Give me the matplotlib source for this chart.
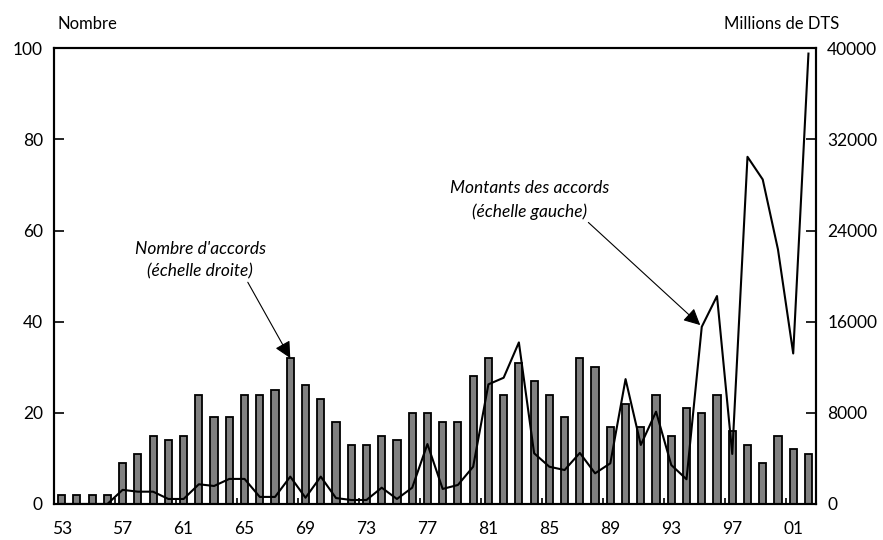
import matplotlib
matplotlib.use("Agg")
import matplotlib.pyplot as plt
import numpy as np

plt.rcParams["font.family"] = ["Lato", "DejaVu Sans"]

years = list(range(1953, 2003))
nombre = [2, 2, 2, 2, 9, 11, 15, 14, 15, 24,
          19, 19, 24, 24, 25, 32, 26, 23, 18, 13,
          13, 15, 14, 20, 20, 18, 18, 28, 32, 24,
          31, 27, 24, 19, 32, 30, 17, 22, 17, 24,
          15, 21, 20, 24, 16, 13, 9, 15, 12, 11]
montants = [0, 0, 0, 0, 1240, 1080, 1080, 440, 440, 1730,
            1580, 2200, 2200, 620, 620, 2400, 550, 2400, 520, 350,
            350, 1430, 440, 1430, 5260, 1320, 1670, 3270, 10500, 11080,
            14180, 4450, 3270, 2980, 4480, 2690, 3570, 10960, 5180, 8100,
            3420, 2170, 15550, 18250, 4390, 30470, 28480, 22340, 13210, 39530]
xtick_years = list(range(1953, 2003, 4))
xtick_labels = [f"{y % 100:02d}" for y in xtick_years]

fig = plt.figure(figsize=(8.83, 5.40), dpi=100)
ax = fig.add_axes([0.0612, 0.0667, 0.863, 0.844])
ax2 = ax.twinx()

ax.bar(years, nombre, width=0.47, color="#808080", edgecolor="black", linewidth=1.3)
ax2.plot(years, montants, color="black", lw=1.5)

ax.set_xlim(1952.5, 2002.5)
ax.set_ylim(0, 100)
ax2.set_ylim(0, 40000)
ax.set_yticks(range(0, 101, 20))
ax2.set_yticks(range(0, 40001, 8000))
ax.set_xticks(xtick_years)
ax.set_xticklabels(xtick_labels)
ax.set_xticks([y - 0.5 for y in xtick_years[1:]], minor=True)
ax.tick_params(axis="x", which="major", length=0, labelsize=12.5, pad=12)
ax.tick_params(axis="x", which="minor", direction="in", length=4, width=1.2)
ax.tick_params(axis="y", direction="in", length=7, width=1.2, labelsize=12.5, pad=8)
ax2.tick_params(axis="y", direction="in", length=7, width=1.2, labelsize=12.5, pad=8)
for a in (ax, ax2):
    for s in a.spines.values():
        s.set_linewidth(1.5)

fig.text(0.065, 0.94, "Nombre", fontsize=12, ha="left", va="bottom")
fig.text(0.95, 0.94, "Millions de DTS", fontsize=12, ha="right", va="bottom")

arrow = dict(arrowstyle="-|>", color="black", lw=0.8, mutation_scale=25, shrinkA=0, shrinkB=0)
ax2.annotate("Nombre d'accords\n(échelle droite)", xy=(1968, 32 * 400),
             xytext=(1962.1, 53.5 * 400), ha="center", va="center",
             fontsize=12.5, style="italic", linespacing=1.5,
             arrowprops=dict(arrow, relpos=(0.85, 0.0)))
ax2.annotate("Montants des accords\n(échelle gauche)", xy=(1994.9, 15700),
             xytext=(1983.7, 66.7 * 400), ha="center", va="center",
             fontsize=12.5, style="italic", linespacing=1.5,
             arrowprops=dict(arrow, relpos=(0.85, 0.0)))

fig.savefig("out.png", dpi=100)
